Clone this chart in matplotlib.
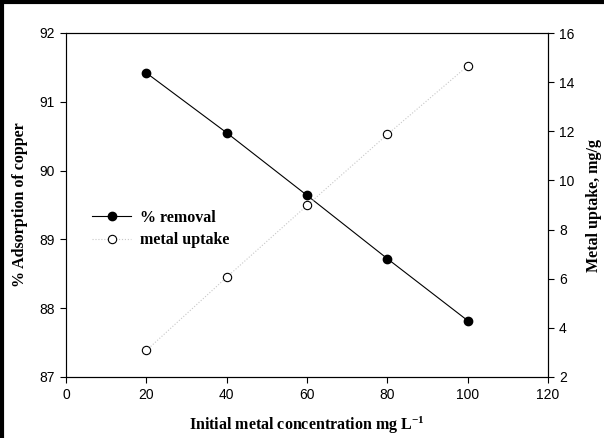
import matplotlib.pyplot as plt
from matplotlib.lines import Line2D

# data
conc = [20, 40, 60, 80, 100]
removal = [91.42, 90.55, 89.64, 88.72, 87.82]
uptake = [3.08, 6.06, 8.98, 11.87, 14.66]

x_ticks = [0, 20, 40, 60, 80, 100, 120]
left_ticks = [87, 88, 89, 90, 91, 92]
right_ticks = [2, 4, 6, 8, 10, 12, 14, 16]

serif = ['Liberation Serif', 'DejaVu Serif']
sans = ['Liberation Sans', 'DejaVu Sans']
plt.rcParams['mathtext.fontset'] = 'custom'
plt.rcParams['mathtext.rm'] = 'Liberation Serif'
plt.rcParams['mathtext.bf'] = 'Liberation Serif:bold'

fig = plt.figure(figsize=(6.04, 4.38), dpi=100)
ax = fig.add_axes([66 / 604, 1 - 377 / 438, (548 - 66) / 604, (377 - 33) / 438])
ax2 = ax.twinx()

l1, = ax.plot(conc, removal, color='black', lw=0.8, marker='o', ms=6,
              mfc='black', mec='black', label='% removal')
l2, = ax2.plot(conc, uptake, color='#c8c8c8', lw=0.8, ls=':', marker='o', ms=6,
               mfc='white', mec='black', mew=0.8, label='metal uptake')

ax.set_xlim(0, 120)
ax.set_ylim(87, 92)
ax2.set_ylim(2, 16)
ax.set_xticks(x_ticks)
ax.set_yticks(left_ticks)
ax2.set_yticks(right_ticks)

for a in (ax, ax2):
    a.tick_params(direction='out', length=4, width=0.8, labelsize=10, pad=4)
    for lab in a.get_xticklabels() + a.get_yticklabels():
        lab.set_family(sans)
    for s in a.spines.values():
        s.set_linewidth(0.8)
ax.spines['left'].set_color('#666666')

ax.set_xlabel('Initial metal concentration mg L$\\mathbf{^{-1}}$', family=serif,
              fontweight='bold', fontsize=11.5, labelpad=9)
ax.set_ylabel('% Adsorption of copper', family=serif, fontweight='bold',
              fontsize=11.5, labelpad=8)
ax2.set_ylabel('Metal uptake, mg/g', family=serif, fontweight='bold',
               fontsize=11.5, labelpad=8)

leg = ax.legend(handles=[l1, l2], loc='upper left', bbox_to_anchor=(0.025, 0.527),
                frameon=False, handlelength=2.4, handletextpad=0.6, labelspacing=0.4,
                prop={'family': serif, 'weight': 'bold', 'size': 11.5})

# thick black frame on the left and top edge (the picture is cropped on the others)
fig.lines.append(Line2D([0.0025, 0.0025], [0, 1], transform=fig.transFigure,
                        color='black', lw=3))
fig.lines.append(Line2D([0, 1], [0.9965, 0.9965], transform=fig.transFigure,
                        color='black', lw=3))

plt.savefig('out.png', dpi=100)
